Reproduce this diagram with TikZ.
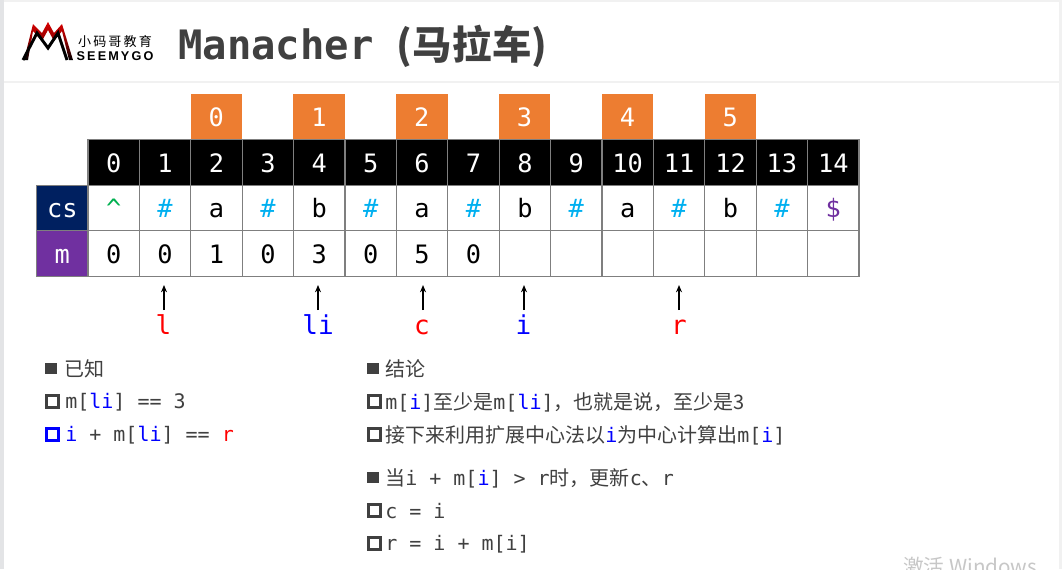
\documentclass[tikz,border=0pt]{standalone}
\usepackage{fontspec}
\setmainfont{Noto Sans CJK SC}
\setmonofont{DejaVu Sans Mono}
\newfontfamily\cjk{Noto Sans CJK SC}
\newfontfamily\wmfont{Liberation Sans}
\definecolor{ink}{HTML}{404040}
\definecolor{gridc}{HTML}{7F7F7F}
\definecolor{orangec}{HTML}{ED7D31}
\definecolor{navyc}{HTML}{002060}
\definecolor{purplec}{HTML}{7030A0}
\definecolor{hashc}{HTML}{00B0F0}
\definecolor{greenc}{HTML}{00B050}
\definecolor{bluec}{HTML}{0000FF}
\definecolor{redc}{HTML}{FF0000}
\definecolor{bandc}{HTML}{E3E4E6}
\definecolor{rulec}{HTML}{F1F1F1}
\newcommand{\B}[1]{\textcolor{bluec}{#1}}
\newcommand{\R}[1]{\textcolor{redc}{#1}}
\usetikzlibrary{arrows.meta}
\tikzset{
  x=0.75pt,y=-0.75pt,
  cellbox/.style={draw=gridc,line width=0.9pt,minimum width=38.55pt,minimum height=34pt,inner sep=0pt,text height=14.6pt,text depth=0pt,font=\ttfamily\fontsize{19}{20}\selectfont,text=black,anchor=center},
  headcell/.style={cellbox,fill=black,text=white},
  sidecell/.style={cellbox,text=white},
  idxbox/.style={fill=orangec,text=white,minimum width=38.55pt,minimum height=34.5pt,inner sep=0pt,text height=14.6pt,text depth=0pt,font=\ttfamily\fontsize{19}{20}\selectfont},
  ptrlabel/.style={font=\ttfamily\fontsize{19.5}{21}\selectfont,inner sep=0pt,anchor=base},
  ptrarrow/.style={-{Stealth[length=5.5pt,width=4.5pt]},line width=0.9pt,black},
  solidbullet/.style={fill=ink,minimum size=8.7pt,inner sep=0pt},
  openbullet/.style={draw=#1,line width=2.4pt,minimum size=8.8pt,inner sep=0pt},
  openbullet/.default=ink,
  linetext/.style={anchor=west,inner sep=0pt,text=ink,font=\ttfamily\fontsize{15}{17}\selectfont},
}
\begin{document}
\begin{tikzpicture}
\useasboundingbox (0,0) rectangle (1062,569);
\fill[white] (0,0) rectangle (1062,569);
\fill[bandc] (0,0) rectangle (4,569);
\fill[rulec] (4,0) rectangle (1062,1.5);
\fill[rulec] (4,80.5) rectangle (1062,82.5);
\fill[rulec] (1059,0) rectangle (1062,569);
% logo
\shade[top color=red!85!black,bottom color=black,middle color=red!55!black]
  (24,60) -- (33,24) -- (42,33) -- (48,22) -- (54,33) -- (62,24) -- (73,60) -- (69,60) -- (62,31) -- (54,41) -- (48,30) -- (42,41) -- (33,31) -- (28,60) -- cycle;
\draw[line width=2.2pt,black,line join=miter] (23,60) -- (37,33) -- (48,48) -- (58,33) -- (67,60);
\node[inner sep=0pt,font=\cjk\fontsize{9.8}{10}\selectfont,text=black] (logocn) at (115,42) {小\kern1.6pt 码\kern1.6pt 哥\kern1.6pt 教\kern1.6pt 育};
\node[inner sep=0pt,font=\wmfont\bfseries\fontsize{9.5}{10}\selectfont,text=black] (logoen) at (115,56.5) {S\,E\,E\,M\,Y\,G\,O};
% title
\node[anchor=base west,inner sep=0pt,text=ink,font=\ttfamily\bfseries\fontsize{30.4}{32}\selectfont] (title) at (178,59) {Manacher};
\node[anchor=base west,inner sep=0pt,text=ink,font=\cjk\bfseries\fontsize{29.5}{32}\selectfont] (titlecn) at (396,59) {(马\kern0.6pt 拉\kern0.6pt 车)};
% index boxes
\foreach \n/\c in {0/2,1/4,2/6,3/8,4/10,5/12}
  \node[idxbox] (o\n) at ({88+51.4*\c+25.4},117) {\n};
% header
\foreach \c in {0,...,14}
  \node[headcell] (h\c) at ({88+51.4*\c+25.7},162.5) {\c};
% side
\node[sidecell,fill=navyc] (lcs) at (62.3,208) {cs};
\node[sidecell,fill=purplec] (lm) at (62.3,253.5) {m};
% cs row
\foreach \c/\t/\k in {0/\^{}/greenc,1/\#/hashc,2/a/black,3/\#/hashc,4/b/black,5/\#/hashc,6/a/black,7/\#/hashc,8/b/black,9/\#/hashc,10/a/black,11/\#/hashc,12/b/black,13/\#/hashc,14/\$/purplec}
  \node[cellbox,text=\k] (s\c) at ({88+51.4*\c+25.7},208) {\t};
% m row
\foreach \c/\t in {0/0,1/0,2/1,3/0,4/3,5/0,6/5,7/0,8/{},9/{},10/{},11/{},12/{},13/{},14/{}}
  \node[cellbox] (m\c) at ({88+51.4*\c+25.7},253.5) {\t};
% pointers
\node[ptrlabel,text=redc] (pl) at (163.5,334) {l};
\node[ptrlabel,text=bluec] (pli) at (318,334) {li};
\node[ptrlabel,text=redc] (pc) at (422,334) {c};
\node[ptrlabel,text=bluec] (pi) at (523.5,334) {i};
\node[ptrlabel,text=redc] (pr) at (679,334) {r};
\coordinate (tl) at (164,285); \coordinate (bl) at (164,310);
\coordinate (tli) at (318,285); \coordinate (bli) at (318,310);
\coordinate (tc) at (423,285); \coordinate (bc) at (423,310);
\coordinate (ti) at (524,285); \coordinate (bi) at (524,310);
\coordinate (tr) at (679,285); \coordinate (br) at (679,310);
\draw[ptrarrow] (bl) -- (tl);
\draw[ptrarrow] (bli) -- (tli);
\draw[ptrarrow] (bc) -- (tc);
\draw[ptrarrow] (bi) -- (ti);
\draw[ptrarrow] (br) -- (tr);
% left text
\node[solidbullet] (b1) at (51,368.5) {};
\node[linetext] (t1) at (64.5,369) {\cjk 已知};
\node[openbullet] (b2) at (52.5,401.5) {};
\node[linetext] (t2) at (65,402) {m[\B{li}] == 3};
\node[openbullet=bluec] (b3) at (52.5,434.5) {};
\node[linetext] (t3) at (65,435) {\B{i} + m[\B{li}] == \R{r}};
% right text
\node[solidbullet] (b4) at (373,368.5) {};
\node[linetext] (t4) at (385,369) {\cjk 结论};
\node[openbullet] (b5) at (374.5,401.5) {};
\node[linetext] (t5) at (385,402) {m[\B{i}]{\cjk 至少是}m[\B{li}]{\cjk ，也就是说，至少是3}};
\node[openbullet] (b6) at (374.5,434.5) {};
\node[linetext] (t6) at (385,435) {{\cjk 接下来利用扩展中心法以}\B{i}{\cjk 为中心计算出}m[\B{i}]};
\node[solidbullet] (b7) at (373,477.5) {};
\node[linetext] (t7) at (385,478) {{\cjk 当}i + m[\B{i}] > r{\cjk 时，更新}c{\cjk 、}r};
\node[openbullet] (b8) at (374.5,510.5) {};
\node[linetext] (t8) at (385,511) {c = i};
\node[openbullet] (b9) at (374.5,543.5) {};
\node[linetext] (t9) at (385,544) {r = i + m[i]};
% watermark
\begin{scope}
\clip (0,0) rectangle (1062,569);
\node[anchor=west,inner sep=0pt,text=black!22,font=\cjk\fontsize{15.5}{17}\selectfont] (wm) at (903,567) {激活 Windows};
\end{scope}
\end{tikzpicture}
\end{document}
